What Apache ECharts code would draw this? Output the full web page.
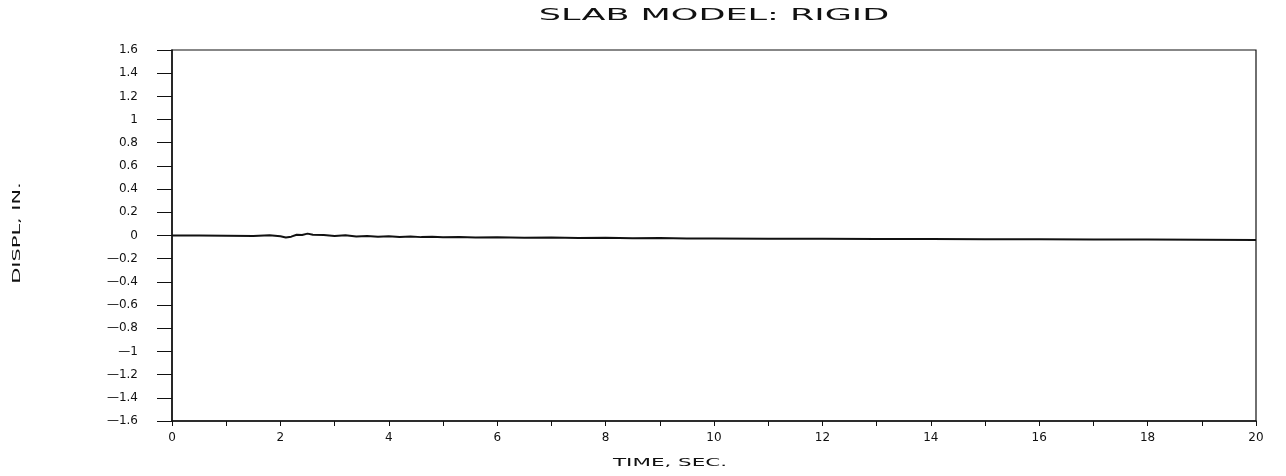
<!DOCTYPE html>
<html>
<head>
<meta charset="utf-8">
<script src="https://cdn.jsdelivr.net/npm/echarts@6/dist/echarts.min.js"></script>
<style>html,body{margin:0;padding:0;background:#fff}#c{width:1286px;height:476px}</style>
</head>
<body>
<div id="c"></div>
<script>
const titleText = "SLAB MODEL: RIGID";
const xName = "TIME, SEC.";
const yName = "DISPL, IN.";
const times = [0,0.5,1,1.5,1.8,2.0,2.1,2.2,2.3,2.4,2.5,2.6,2.8,3.0,3.2,3.4,3.6,3.8,4.0,4.2,4.4,4.6,4.8,5.0,5.3,5.6,6.0,6.5,7,7.5,8,8.5,9,9.5,10,11,12,13,14,15,16,17,18,19,20];
const displ = [0,0,-0.002,-0.004,0.002,-0.006,-0.018,-0.01,0.006,0.004,0.016,0.006,0.004,-0.004,0.002,-0.008,-0.004,-0.01,-0.006,-0.012,-0.008,-0.014,-0.01,-0.016,-0.012,-0.018,-0.016,-0.02,-0.018,-0.022,-0.02,-0.024,-0.022,-0.026,-0.025,-0.028,-0.028,-0.03,-0.03,-0.032,-0.033,-0.034,-0.035,-0.036,-0.038];

const chart = echarts.init(document.getElementById('c'), null, {renderer:'canvas'});
const font = "DejaVu Sans";
chart.setOption({
  animation:false,
  backgroundColor:'#fff',
  graphic:[{
    type:'text', x:714, y:16, scaleX:2.19, scaleY:1, originX:0, originY:0,
    style:{text:titleText, fill:'#111', font:'16px "DejaVu Sans"', align:'center', verticalAlign:'middle'}
  },{
    type:'text', x:670, y:463, scaleX:1.95, scaleY:1, originX:0, originY:0,
    style:{text:xName, fill:'#111', font:'11px "DejaVu Sans"', align:'center', verticalAlign:'middle'}
  },{
    type:'text', x:17, y:233, rotation:Math.PI/2, scaleX:1.9, scaleY:1, originX:0, originY:0,
    style:{text:yName, fill:'#111', font:'11px "DejaVu Sans"', align:'center', verticalAlign:'middle'}
  }],
  grid:{left:172,right:30,top:50,bottom:55,show:true,borderColor:'#111',borderWidth:1.2,backgroundColor:'transparent'},
  xAxis:{
    type:'value', min:0, max:20, interval:1,
    axisLine:{show:true,onZero:false,lineStyle:{color:'#111',width:1.5}},
    axisTick:{show:true,inside:false,length:5,lineStyle:{color:'#111',width:1}},
    axisLabel:{color:'#111', fontFamily:font, fontSize:12, margin:11,
      formatter:function(v){return (v%2===0)?String(v):'';}},
    splitLine:{show:false}
  },
  yAxis:{
    type:'value', min:-1.6, max:1.6, interval:0.2,
    axisLine:{show:true,onZero:false,lineStyle:{color:'#111',width:1.5}},
    axisTick:{show:true,inside:false,length:15,lineStyle:{color:'#111',width:1}},
    axisLabel:{color:'#111', fontFamily:font, fontSize:12, margin:34,
      formatter:function(v){var r=Math.round(v*10)/10; if(Math.abs(r)<1e-9) return '0'; return r<0?('\u2014'+String(-r)):String(r);}},
    splitLine:{show:false}
  },
  series:[{
    type:'line', data:times.map((t,i)=>[t,displ[i]]), showSymbol:false,
    lineStyle:{color:'#111',width:2}, smooth:false
  }]
});
</script>
</body>
</html>
